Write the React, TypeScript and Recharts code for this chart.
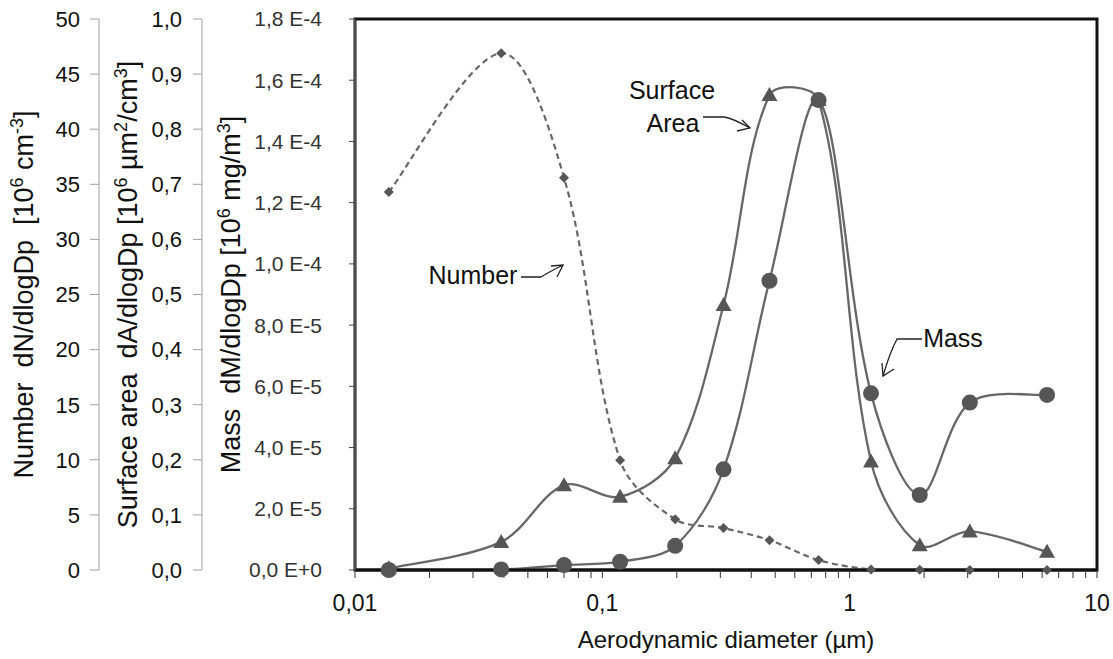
import React from 'react';
import { ComposedChart, Line, XAxis, YAxis, ReferenceArea } from 'recharts';

// aerodynamic diameter (µm) of each impactor stage
const diameters = [0.0137, 0.039, 0.07, 0.118, 0.197, 0.309, 0.474, 0.749, 1.22, 1.92, 3.06, 6.28];
// dN/dlogDp [10^6 cm^-3]
const numberConc = [34.3, 46.9, 35.6, 9.95, 4.6, 3.8, 2.7, 0.9, 0.05, 0.02, 0.01, 0.005];
// dA/dlogDp [10^6 µm²/cm³]
const surfaceArea = [0.003, 0.051, 0.154, 0.133, 0.203, 0.481, 0.862, 0.853, 0.197, 0.045, 0.07, 0.033];
// dM/dlogDp [10^6 mg/m³]
const massConc = [0, 0.2e-6, 1.6e-6, 2.7e-6, 7.9e-6, 3.29e-5, 9.45e-5, 1.535e-4, 5.77e-5, 2.45e-5, 5.47e-5, 5.72e-5];

const xMajorTicks = [0.01, 0.1, 1, 10];
const xMajorLabels = ['0,01', '0,1', '1', '10'];
const xMinorTicks = [
  0.02, 0.03, 0.04, 0.05, 0.06, 0.07, 0.08, 0.09,
  0.2, 0.3, 0.4, 0.5, 0.6, 0.7, 0.8, 0.9,
  2, 3, 4, 5, 6, 7, 8, 9,
];

const numberTicks = [0, 5, 10, 15, 20, 25, 30, 35, 40, 45, 50];
const surfaceTicks = [0, 0.1, 0.2, 0.3, 0.4, 0.5, 0.6, 0.7, 0.8, 0.9, 1];
const surfaceTickLabels = ['0,0', '0,1', '0,2', '0,3', '0,4', '0,5', '0,6', '0,7', '0,8', '0,9', '1,0'];
const massTicks = [0, 2e-5, 4e-5, 6e-5, 8e-5, 1e-4, 1.2e-4, 1.4e-4, 1.6e-4, 1.8e-4];
const massTickLabels = ['0,0 E+0', '2,0 E-5', '4,0 E-5', '6,0 E-5', '8,0 E-5', '1,0 E-4', '1,2 E-4', '1,4 E-4', '1,6 E-4', '1,8 E-4'];

const data = diameters.map((d, i) => ({ d, n: numberConc[i], a: surfaceArea[i], m: massConc[i] }));
const xTicks = [...xMajorTicks, ...xMinorTicks].sort((p, q) => p - q);

const FONT = '"Liberation Sans", Arial, sans-serif';
const LINE = '#676767';
const MARK = '#565656';

// smoothed line like a spreadsheet chart: cubic bezier, tangents scaled by chord length
function smoothCurve(context: any) {
  let xs: number[] = [];
  let ys: number[] = [];
  return {
    areaStart() {},
    areaEnd() {},
    lineStart() {
      xs = [];
      ys = [];
    },
    point(x: number, y: number) {
      xs.push(+x);
      ys.push(+y);
    },
    lineEnd() {
      const n = xs.length;
      if (!n) return;
      const dist = (a: number, b: number) => Math.hypot(xs[b] - xs[a], ys[b] - ys[a]) || 1e-6;
      context.moveTo(xs[0], ys[0]);
      for (let i = 0; i < n - 1; i++) {
        const i0 = Math.max(i - 1, 0);
        const i3 = Math.min(i + 2, n - 1);
        const seg = dist(i, i + 1);
        const k1 = i0 === i ? 1 / 6 : seg / (dist(i0, i) + seg) / 3;
        const k2 = i3 === i + 1 ? 1 / 6 : seg / (dist(i + 1, i3) + seg) / 3;
        context.bezierCurveTo(
          xs[i] + (xs[i + 1] - xs[i0]) * k1,
          ys[i] + (ys[i + 1] - ys[i0]) * k1,
          xs[i + 1] - (xs[i3] - xs[i]) * k2,
          ys[i + 1] - (ys[i3] - ys[i]) * k2,
          xs[i + 1],
          ys[i + 1]
        );
      }
    },
  };
}

const Triangle = (p: any) => (
  <polygon
    key={`t-${p.index}`}
    points={`${p.cx},${p.cy - 8} ${p.cx - 8},${p.cy + 6} ${p.cx + 8},${p.cy + 6}`}
    fill={MARK}
  />
);
const Circle = (p: any) => <circle key={`c-${p.index}`} cx={p.cx} cy={p.cy} r={8} fill={MARK} />;
const Diamond = (p: any) => (
  <polygon
    key={`d-${p.index}`}
    points={`${p.cx},${p.cy - 5} ${p.cx + 5},${p.cy} ${p.cx},${p.cy + 5} ${p.cx - 5},${p.cy}`}
    fill={MARK}
  />
);

function AxisTitle({ viewBox, dx, children }: any) {
  const x = viewBox.x + dx;
  const y = viewBox.y + viewBox.height / 2;
  return (
    <text
      x={x}
      y={y}
      transform={`rotate(-90 ${x} ${y})`}
      textAnchor="middle"
      fontSize={27}
      fill="#111"
      fontFamily={FONT}
      style={{ whiteSpace: 'pre' }}
    >
      {children}
    </text>
  );
}

export default function App() {
  return (
    <div style={{ position: 'absolute', left: 0, top: 0, width: 1113, height: 659, background: '#fff' }}>
      <ComposedChart
        width={1113}
        height={659}
        data={data}
        margin={{ top: 19, right: 16, left: 0, bottom: 0 }}
        style={{ fontFamily: FONT }}
      >
        <XAxis
          dataKey="d"
          type="number"
          scale="log"
          domain={[0.01, 10]}
          ticks={xTicks}
          interval={0}
          height={89}
          tickSize={8}
          tickMargin={17}
          tickFormatter={(v: number) => {
            const i = xMajorTicks.indexOf(v);
            return i >= 0 ? xMajorLabels[i] : '';
          }}
          tick={{ fontSize: 23, fill: '#111' }}
          axisLine={{ stroke: '#111', strokeWidth: 3 }}
          tickLine={{ stroke: '#333' }}
          label={{ value: 'Aerodynamic diameter (µm)', position: 'insideBottom', offset: 11, fontSize: 24, fill: '#111' }}
        />
        <YAxis
          yAxisId="a-mass"
          width={153}
          domain={[0, 1.8e-4]}
          ticks={massTicks}
          interval={0}
          tickSize={6}
          tickMargin={27}
          tickFormatter={(v: number, i: number) => massTickLabels[i]}
          tick={{ fontSize: 21, fill: '#333' }}
          axisLine={{ stroke: '#888' }}
          tickLine={{ stroke: '#444' }}
          label={
            <AxisTitle dx={38}>
              {'Mass  dM/dlogDp [10'}
              <tspan dy={-10} fontSize={18}>6</tspan>
              <tspan dy={10}>{' mg/m'}</tspan>
              <tspan dy={-10} fontSize={18}>3</tspan>
              <tspan dy={10}>]</tspan>
            </AxisTitle>
          }
        />
        <YAxis
          yAxisId="b-area"
          width={103}
          domain={[0, 1]}
          ticks={surfaceTicks}
          interval={0}
          tickSize={9}
          tickMargin={11}
          tickFormatter={(v: number, i: number) => surfaceTickLabels[i]}
          tick={{ fontSize: 22, fill: '#111' }}
          axisLine={{ stroke: '#a0a0a0' }}
          tickLine={{ stroke: '#a0a0a0' }}
          label={
            <AxisTitle dx={38}>
              {'Surface area  dA/dlogDp [10'}
              <tspan dy={-10} fontSize={18}>6</tspan>
              <tspan dy={10}>{' µm'}</tspan>
              <tspan dy={-10} fontSize={18}>2</tspan>
              <tspan dy={10}>/cm</tspan>
              <tspan dy={-10} fontSize={18}>3</tspan>
              <tspan dy={10}>]</tspan>
            </AxisTitle>
          }
        />
        <YAxis
          yAxisId="c-number"
          width={99}
          domain={[0, 50]}
          ticks={numberTicks}
          interval={0}
          tickSize={9}
          tickMargin={10}
          tick={{ fontSize: 22, fill: '#111' }}
          axisLine={{ stroke: '#a0a0a0' }}
          tickLine={{ stroke: '#a0a0a0' }}
          label={
            <AxisTitle dx={33}>
              {'Number  dN/dlogDp  [10'}
              <tspan dy={-10} fontSize={18}>6</tspan>
              <tspan dy={10}>{' cm'}</tspan>
              <tspan dy={-10} fontSize={18}>-3</tspan>
              <tspan dy={10}>]</tspan>
            </AxisTitle>
          }
        />
        <ReferenceArea
          yAxisId="a-mass"
          x1={0.01}
          x2={10}
          y1={0}
          y2={1.8e-4}
          fill="none"
          stroke="#111"
          strokeWidth={3}
          ifOverflow="visible"
        />
        <Line
          yAxisId="c-number"
          dataKey="n"
          type={smoothCurve as any}
          stroke={LINE}
          strokeWidth={2.2}
          strokeDasharray="6 4"
          dot={Diamond}
          activeDot={false}
          isAnimationActive={false}
        />
        <Line
          yAxisId="b-area"
          dataKey="a"
          type={smoothCurve as any}
          stroke={LINE}
          strokeWidth={2.3}
          dot={Triangle}
          activeDot={false}
          isAnimationActive={false}
        />
        <Line
          yAxisId="a-mass"
          dataKey="m"
          type={smoothCurve as any}
          stroke={LINE}
          strokeWidth={2.3}
          dot={Circle}
          activeDot={false}
          isAnimationActive={false}
        />
      </ComposedChart>
      <svg
        width={1113}
        height={659}
        style={{ position: 'absolute', left: 0, top: 0, pointerEvents: 'none' }}
        fontFamily={FONT}
      >
        <text x={672} y={99} textAnchor="middle" fontSize={25} fill="#111">Surface</text>
        <text x={673} y={132} textAnchor="middle" fontSize={25} fill="#111">Area</text>
        <path d="M703 117 L724 117 Q732 118 750 128" fill="none" stroke="#222" strokeWidth={1.3} />
        <path d="M737 131 L750 128 L742 120" fill="none" stroke="#222" strokeWidth={1.3} />

        <text x={473} y={284} textAnchor="middle" fontSize={25} fill="#111">Number</text>
        <path d="M521 277 L541 277 Q549 272 563 265" fill="none" stroke="#222" strokeWidth={1.3} />
        <path d="M551 266 L563 265 L557 277" fill="none" stroke="#222" strokeWidth={1.3} />

        <text x={953} y={347} textAnchor="middle" fontSize={25} fill="#111">Mass</text>
        <path d="M922 339 L897 339 Q890 352 883 376" fill="none" stroke="#222" strokeWidth={1.3} />
        <path d="M882 363 L883 376 L894 369" fill="none" stroke="#222" strokeWidth={1.3} />
      </svg>
    </div>
  );
}
